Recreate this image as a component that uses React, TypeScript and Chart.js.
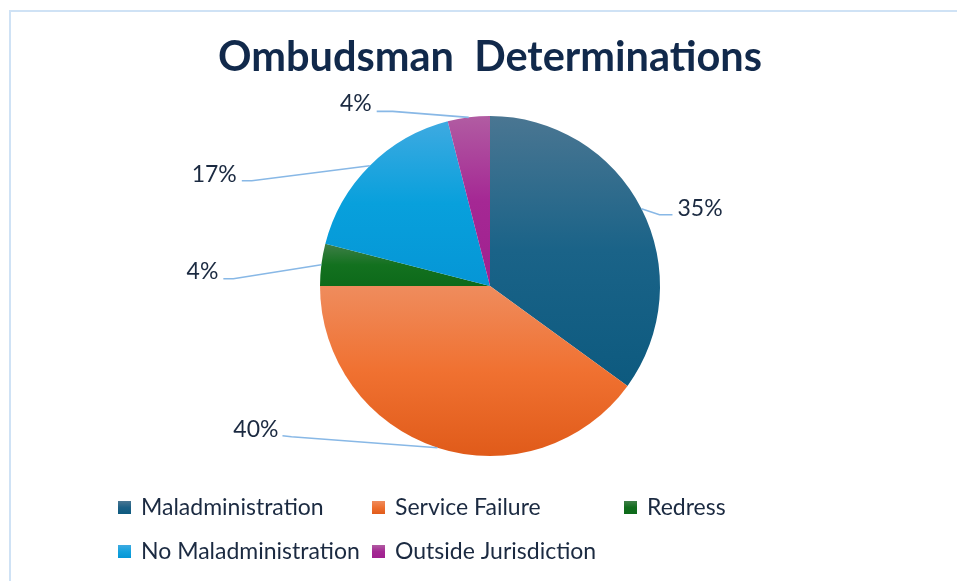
import React, { useEffect, useRef } from "react";
import { Chart, registerables } from "chart.js";

Chart.register(...registerables);

const categories = [
  "Maladministration",
  "Service Failure",
  "Redress",
  "No Maladministration",
  "Outside Jurisdiction",
];
const values = [35, 40, 4, 17, 4];
const percentLabels = ["35%", "40%", "4%", "17%", "4%"];
const chartTitle = "Ombudsman  Determinations";

// gradient stops: [top, middle, bottom]
const sliceGradients = [
  ["#4a7692", "#1a6388", "#0d5a7f"],
  ["#ef8c5d", "#f07131", "#e05b1a"],
  ["#3f7f48", "#13711f", "#0d6a1a"],
  ["#3eaae1", "#08a0dc", "#0596d6"],
  ["#b15ca2", "#a52894", "#a0208f"],
];
const legendColors = ["#1d6086", "#ee7030", "#116c1d", "#14a2de", "#a42893"];

// leader-line layout relative to the arc anchor: [elbowDx, elbowDy, endDx, endDy, textDx, textDy, align]
const labelLayout: [number, number, number, number, number, number, CanvasTextAlign][] = [
  [18, 6, 31, 6, 36, 0, "left"],
  [-146, -11, -155, -12, -159, -18, "right"],
  [-88, 14, -98, 14, -103, 7, "right"],
  [-118, 15, -128, 15, -133, 9, "right"],
  [-76, -6, -92, -6, -97, -14, "right"],
];

const TEXT_DARK = "#1b2a41";
const TITLE_COLOR = "#11294b";

const gradientPlugin = {
  id: "sliceGradient",
  beforeDatasetsDraw(chart: any) {
    const ctx = chart.ctx;
    const meta = chart.getDatasetMeta(0);
    meta.data.forEach((arc: any, i: number) => {
      const { x, y, startAngle, endAngle, outerRadius } = arc.getProps(
        ["x", "y", "startAngle", "endAngle", "outerRadius"],
        true
      );
      const ys = [y, y + Math.sin(startAngle) * outerRadius, y + Math.sin(endAngle) * outerRadius];
      const twoPi = Math.PI * 2;
      for (const a of [Math.PI / 2, -Math.PI / 2, (3 * Math.PI) / 2]) {
        let t = a;
        while (t < startAngle) t += twoPi;
        if (t <= endAngle) ys.push(y + Math.sin(t) * outerRadius);
      }
      const top = Math.min(...ys);
      const bottom = Math.max(...ys);
      const g = ctx.createLinearGradient(0, top, 0, bottom);
      const stops = sliceGradients[i];
      g.addColorStop(0, stops[0]);
      g.addColorStop(0.5, stops[1]);
      g.addColorStop(1, stops[2]);
      arc.options.backgroundColor = g;
    });
  },
};

const decorPlugin = {
  id: "decor",
  beforeDraw(chart: any) {
    const ctx = chart.ctx;
    ctx.save();
    ctx.fillStyle = "#ffffff";
    ctx.fillRect(0, 0, chart.width, chart.height);
    ctx.strokeStyle = "#cfe2f5";
    ctx.lineWidth = 2;
    ctx.strokeRect(10, 11, chart.width + 40, chart.height + 40);
    ctx.restore();
  },
  afterDraw(chart: any) {
    const ctx = chart.ctx;
    ctx.save();
    // title
    ctx.fillStyle = TITLE_COLOR;
    ctx.font = "bold 41.5px Lato";
    ctx.textAlign = "center";
    ctx.textBaseline = "middle";
    ctx.fillText(chartTitle, 490, 58);

    // data labels with leader lines
    const meta = chart.getDatasetMeta(0);
    meta.data.forEach((arc: any, i: number) => {
      const { x, y, startAngle, endAngle, outerRadius } = arc.getProps(
        ["x", "y", "startAngle", "endAngle", "outerRadius"],
        true
      );
      const mid = (startAngle + endAngle) / 2;
      const ax = x + Math.cos(mid) * outerRadius;
      const ay = y + Math.sin(mid) * outerRadius;
      const [ex, ey, fx, fy, tx, ty, align] = labelLayout[i];
      ctx.strokeStyle = "#88b8e6";
      ctx.lineWidth = 1.6;
      ctx.beginPath();
      ctx.moveTo(ax, ay);
      ctx.lineTo(ax + ex, ay + ey);
      ctx.lineTo(ax + fx, ay + fy);
      ctx.stroke();
      ctx.fillStyle = TEXT_DARK;
      ctx.font = "23px Lato";
      ctx.textAlign = align;
      ctx.textBaseline = "middle";
      ctx.fillText(percentLabels[i], ax + tx, ay + ty);
    });

    // legend
    const colX = [118, 372, 624];
    const rowY = [507, 551];
    ctx.font = "23px Lato";
    ctx.textAlign = "left";
    ctx.textBaseline = "middle";
    let prevEnd = 0;
    categories.forEach((name, i) => {
      const col = i % 3;
      const row = Math.floor(i / 3);
      if (col === 0) prevEnd = 0;
      let sx = colX[col];
      let textOff = 23;
      if (prevEnd + 4 > sx) {
        sx = prevEnd + 4;
        textOff = 16;
      }
      const cy = rowY[row];
      const g = ctx.createLinearGradient(0, cy - 6, 0, cy + 7);
      g.addColorStop(0, sliceGradients[i][0]);
      g.addColorStop(0.5, legendColors[i]);
      g.addColorStop(1, sliceGradients[i][2]);
      ctx.fillStyle = g;
      ctx.fillRect(sx, cy - 6, 13, 13);
      ctx.fillStyle = TEXT_DARK;
      ctx.fillText(name, sx + textOff, cy + 1);
      prevEnd = sx + textOff + ctx.measureText(name).width;
    });
    ctx.restore();
  },
};

export default function App() {
  const ref = useRef<HTMLCanvasElement | null>(null);
  useEffect(() => {
    document.body.style.margin = "0";
    if (!ref.current) return;
    const chart = new Chart(ref.current, {
      type: "pie",
      data: {
        labels: categories,
        datasets: [
          {
            data: values,
            backgroundColor: legendColors,
            borderWidth: 0,
          },
        ],
      },
      options: {
        responsive: false,
        animation: false,
        devicePixelRatio: 1,
        layout: { padding: { top: 116, bottom: 125, left: 300, right: 277 } },
        plugins: {
          legend: { display: false },
          title: { display: false },
          tooltip: { enabled: false },
        },
      },
      plugins: [gradientPlugin, decorPlugin],
    });
    return () => chart.destroy();
  }, []);
  return (
    <div style={{ position: "relative", width: 957, height: 581 }}>
      <canvas ref={ref} width={957} height={581} style={{ display: "block" }} />
    </div>
  );
}
